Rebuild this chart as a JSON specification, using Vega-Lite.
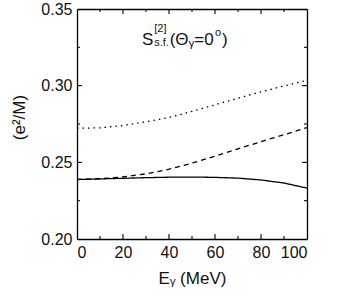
{
  "$schema": "https://vega.github.io/schema/vega-lite/v6.json",
  "autosize": "none",
  "width": 230,
  "height": 230,
  "padding": {"left": 77, "top": 9, "right": 35, "bottom": 68},
  "background": "white",
  "config": {
    "view": {"stroke": null},
    "font": "Liberation Sans",
    "axis": {
      "labelFont": "Liberation Sans",
      "titleFont": "Liberation Sans",
      "labelFontSize": 16,
      "titleFontSize": 17,
      "titleFontWeight": "normal",
      "labelColor": "#111",
      "titleColor": "#111",
      "domainColor": "black",
      "domainWidth": 1.3,
      "grid": false
    }
  },
  "datasets": {
    "curves": [
      {"E": 0, "S": 0.2388, "curve": "solid"},
      {"E": 10, "S": 0.2392, "curve": "solid"},
      {"E": 20, "S": 0.2396, "curve": "solid"},
      {"E": 30, "S": 0.2400, "curve": "solid"},
      {"E": 40, "S": 0.2403, "curve": "solid"},
      {"E": 50, "S": 0.2404, "curve": "solid"},
      {"E": 60, "S": 0.2402, "curve": "solid"},
      {"E": 70, "S": 0.2397, "curve": "solid"},
      {"E": 80, "S": 0.2385, "curve": "solid"},
      {"E": 90, "S": 0.2365, "curve": "solid"},
      {"E": 100, "S": 0.2332, "curve": "solid"},
      {"E": 0, "S": 0.2388, "curve": "dashed"},
      {"E": 10, "S": 0.2393, "curve": "dashed"},
      {"E": 20, "S": 0.2405, "curve": "dashed"},
      {"E": 30, "S": 0.2425, "curve": "dashed"},
      {"E": 40, "S": 0.2455, "curve": "dashed"},
      {"E": 50, "S": 0.2495, "curve": "dashed"},
      {"E": 60, "S": 0.2540, "curve": "dashed"},
      {"E": 70, "S": 0.2588, "curve": "dashed"},
      {"E": 80, "S": 0.2635, "curve": "dashed"},
      {"E": 90, "S": 0.2680, "curve": "dashed"},
      {"E": 100, "S": 0.2727, "curve": "dashed"},
      {"E": 0, "S": 0.2722, "curve": "dotted"},
      {"E": 10, "S": 0.2725, "curve": "dotted"},
      {"E": 20, "S": 0.2740, "curve": "dotted"},
      {"E": 30, "S": 0.2765, "curve": "dotted"},
      {"E": 40, "S": 0.2792, "curve": "dotted"},
      {"E": 50, "S": 0.2832, "curve": "dotted"},
      {"E": 60, "S": 0.2875, "curve": "dotted"},
      {"E": 70, "S": 0.2918, "curve": "dotted"},
      {"E": 80, "S": 0.2960, "curve": "dotted"},
      {"E": 90, "S": 0.2998, "curve": "dotted"},
      {"E": 100, "S": 0.3035, "curve": "dotted"}
    ],
    "xmaj": [{"E": 20}, {"E": 40}, {"E": 60}, {"E": 80}],
    "xmin": [{"E": 10}, {"E": 30}, {"E": 50}, {"E": 70}, {"E": 90}],
    "ymaj": [{"S": 0.25}, {"S": 0.3}],
    "ymin": [{"S": 0.225}, {"S": 0.275}, {"S": 0.325}],
    "label": [
      {"E": 28.3, "S": 0.3267, "text": "S", "role": "main"},
      {"E": 33.6, "S": 0.3349, "text": "[2]", "role": "small"},
      {"E": 33.6, "S": 0.3257, "text": "s.f.", "role": "small"},
      {"E": 40.3, "S": 0.3267, "text": "(Θ", "role": "main"},
      {"E": 48.6, "S": 0.3250, "text": "γ", "role": "small"},
      {"E": 51.0, "S": 0.3267, "text": "=0", "role": "main"},
      {"E": 60.0, "S": 0.3323, "text": "o", "role": "small"},
      {"E": 63.0, "S": 0.3267, "text": ")", "role": "main"}
    ]
  },
  "layer": [
    {
      "data": {"name": "curves"},
      "mark": {"type": "line", "color": "black", "strokeWidth": 1.3},
      "encoding": {
        "x": {
          "field": "E", "type": "quantitative",
          "scale": {"domain": [0, 100], "nice": false},
          "axis": {
            "title": "Eᵧ (MeV)",
            "values": [0, 20, 40, 60, 80, 100],
            "ticks": false,
            "labelPadding": 5,
            "titlePadding": 10
          }
        },
        "y": {
          "field": "S", "type": "quantitative",
          "scale": {"domain": [0.2, 0.35], "nice": false, "zero": false},
          "axis": {
            "title": "(e²/M)",
            "values": [0.2, 0.25, 0.3, 0.35],
            "format": ".2f",
            "ticks": false,
            "labelPadding": 5,
            "titlePadding": 12,
            "titleY": 108
          }
        },
        "strokeDash": {
          "field": "curve", "type": "nominal",
          "scale": {"domain": ["solid", "dashed", "dotted"], "range": [[1, 0], [5, 4], [1.5, 4]]},
          "legend": null
        },
        "detail": {"field": "curve"}
      }
    },
    {
      "data": {"name": "curves"},
      "mark": {"type": "line", "strokeOpacity": 0},
      "encoding": {
        "x": {"field": "E", "type": "quantitative", "axis": {"orient": "top", "title": null, "labels": false, "ticks": false}},
        "y": {"field": "S", "type": "quantitative", "axis": {"orient": "right", "title": null, "labels": false, "ticks": false}},
        "detail": {"field": "curve"}
      }
    },
    {
      "data": {"name": "xmaj"},
      "mark": {"type": "rule", "color": "black", "strokeWidth": 1.1},
      "encoding": {
        "x": {"field": "E", "type": "quantitative", "axis": null},
        "y": {"datum": 0.2, "type": "quantitative", "axis": null},
        "y2": {"datum": 0.20326}
      }
    },
    {
      "data": {"name": "xmaj"},
      "mark": {"type": "rule", "color": "black", "strokeWidth": 1.1},
      "encoding": {
        "x": {"field": "E", "type": "quantitative", "axis": null},
        "y": {"datum": 0.35, "type": "quantitative", "axis": null},
        "y2": {"datum": 0.34674}
      }
    },
    {
      "data": {"name": "xmin"},
      "mark": {"type": "rule", "color": "black", "strokeWidth": 1.1},
      "encoding": {
        "x": {"field": "E", "type": "quantitative", "axis": null},
        "y": {"datum": 0.2, "type": "quantitative", "axis": null},
        "y2": {"datum": 0.20196}
      }
    },
    {
      "data": {"name": "xmin"},
      "mark": {"type": "rule", "color": "black", "strokeWidth": 1.1},
      "encoding": {
        "x": {"field": "E", "type": "quantitative", "axis": null},
        "y": {"datum": 0.35, "type": "quantitative", "axis": null},
        "y2": {"datum": 0.34804}
      }
    },
    {
      "data": {"name": "ymaj"},
      "mark": {"type": "rule", "color": "black", "strokeWidth": 1.1},
      "encoding": {
        "y": {"field": "S", "type": "quantitative", "axis": null},
        "x": {"datum": 0, "type": "quantitative", "axis": null},
        "x2": {"datum": 2.17}
      }
    },
    {
      "data": {"name": "ymaj"},
      "mark": {"type": "rule", "color": "black", "strokeWidth": 1.1},
      "encoding": {
        "y": {"field": "S", "type": "quantitative", "axis": null},
        "x": {"datum": 100, "type": "quantitative", "axis": null},
        "x2": {"datum": 97.83}
      }
    },
    {
      "data": {"name": "ymin"},
      "mark": {"type": "rule", "color": "black", "strokeWidth": 1.1},
      "encoding": {
        "y": {"field": "S", "type": "quantitative", "axis": null},
        "x": {"datum": 0, "type": "quantitative", "axis": null},
        "x2": {"datum": 1.3}
      }
    },
    {
      "data": {"name": "ymin"},
      "mark": {"type": "rule", "color": "black", "strokeWidth": 1.1},
      "encoding": {
        "y": {"field": "S", "type": "quantitative", "axis": null},
        "x": {"datum": 100, "type": "quantitative", "axis": null},
        "x2": {"datum": 98.7}
      }
    },
    {
      "data": {"name": "label"},
      "mark": {"type": "text", "align": "left", "baseline": "alphabetic", "font": "Liberation Sans", "color": "#111"},
      "encoding": {
        "x": {"field": "E", "type": "quantitative", "axis": null},
        "y": {"field": "S", "type": "quantitative", "axis": null},
        "text": {"field": "text"},
        "size": {"field": "role", "type": "nominal", "scale": {"domain": ["main", "small"], "range": [17, 11]}, "legend": null}
      }
    }
  ],
  "resolve": {"axis": {"x": "independent", "y": "independent"}}
}
